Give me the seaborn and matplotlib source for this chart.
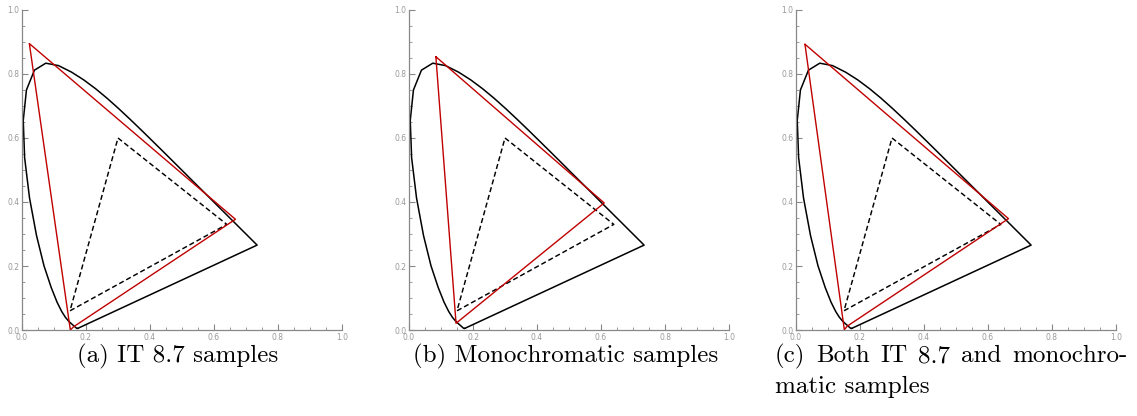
import matplotlib
matplotlib.use("Agg")
import matplotlib.pyplot as plt
import seaborn as sns
import numpy as np
import pandas as pd
from matplotlib.ticker import MultipleLocator, FormatStrFormatter

sns.set_theme(style="white")

##############################################################################
# Data
##############################################################################

# CIE 1931 spectral locus, 380-700 nm in 5 nm steps
locus_x = [0.1741, 0.1740, 0.1738, 0.1736, 0.1733, 0.1730, 0.1726, 0.1721,
           0.1714, 0.1703, 0.1689, 0.1669, 0.1644, 0.1611, 0.1566, 0.1510,
           0.1440, 0.1355, 0.1241, 0.1096, 0.0913, 0.0687, 0.0454, 0.0235,
           0.0082, 0.0039, 0.0139, 0.0389, 0.0743, 0.1142, 0.1547, 0.1929,
           0.2296, 0.2658, 0.3016, 0.3373, 0.3731, 0.4087, 0.4441, 0.4788,
           0.5125, 0.5448, 0.5752, 0.6029, 0.6270, 0.6482, 0.6658, 0.6801,
           0.6915, 0.7006, 0.7079, 0.7140, 0.7190, 0.7230, 0.7260, 0.7283,
           0.7300, 0.7311, 0.7320, 0.7327, 0.7334, 0.7340, 0.7344, 0.7346,
           0.7347]
locus_y = [0.0050, 0.0050, 0.0049, 0.0049, 0.0048, 0.0048, 0.0048, 0.0048,
           0.0051, 0.0058, 0.0069, 0.0086, 0.0109, 0.0138, 0.0177, 0.0227,
           0.0297, 0.0399, 0.0578, 0.0868, 0.1327, 0.2007, 0.2950, 0.4127,
           0.5384, 0.6548, 0.7502, 0.8120, 0.8338, 0.8262, 0.8059, 0.7816,
           0.7543, 0.7243, 0.6923, 0.6589, 0.6245, 0.5896, 0.5547, 0.5202,
           0.4866, 0.4544, 0.4242, 0.3965, 0.3725, 0.3514, 0.3340, 0.3197,
           0.3083, 0.2993, 0.2920, 0.2859, 0.2809, 0.2770, 0.2740, 0.2717,
           0.2700, 0.2689, 0.2680, 0.2673, 0.2666, 0.2660, 0.2656, 0.2654,
           0.2653]

# sRGB primaries (dashed triangle)
srgb_x = [0.30, 0.64, 0.15]
srgb_y = [0.60, 0.33, 0.06]

# fitted gamut for each panel (red)
gamut_a_x = [0.023, 0.667, 0.161, 0.151]
gamut_a_y = [0.895, 0.346, 0.010, 0.000]
gamut_b_x = [0.084, 0.610, 0.147]
gamut_b_y = [0.854, 0.397, 0.021]
gamut_c_x = [0.028, 0.664, 0.160, 0.151]
gamut_c_y = [0.893, 0.348, 0.012, 0.001]

captions = ["(a) IT 8.7 samples", "(b) Monochromatic samples"]
caption_c_words = ["(c)", "Both", "IT", "8.7", "and", "monochro-"]
caption_c_line2 = "matic samples"

##############################################################################
# Plot
##############################################################################

def closed(xs, ys):
    return list(xs) + [xs[0]], list(ys) + [ys[0]]


def draw_panel(ax, gx, gy):
    lx, ly = closed(locus_x, locus_y)
    sns.lineplot(x=lx, y=ly, sort=False, estimator=None, ax=ax,
                 color="black", linewidth=1.1)
    sx, sy = closed(srgb_x, srgb_y)
    sns.lineplot(x=sx, y=sy, sort=False, estimator=None, ax=ax,
                 color="black", linewidth=1.05, linestyle=(0, (3.5, 2)))
    rx, ry = closed(gx, gy)
    sns.lineplot(x=rx, y=ry, sort=False, estimator=None, ax=ax,
                 color="#c00000", linewidth=1.0)

    ax.set_xlim(0, 1)
    ax.set_ylim(0, 1)
    for axis in (ax.xaxis, ax.yaxis):
        axis.set_major_locator(MultipleLocator(0.2))
        axis.set_minor_locator(MultipleLocator(0.05))
        axis.set_major_formatter(FormatStrFormatter("%.1f"))
    ax.tick_params(which="both", direction="in", color="#888888",
                   labelcolor="#999999", labelsize=5.5, pad=2,
                   bottom=True, left=True)
    ax.tick_params(which="major", length=4, width=0.8)
    ax.tick_params(which="minor", length=2, width=0.6)
    for side in ["top", "right"]:
        ax.spines[side].set_visible(False)
    for side in ["left", "bottom"]:
        ax.spines[side].set_color("#888888")
        ax.spines[side].set_linewidth(0.9)
    ax.set_facecolor("white")
    ax.grid(False)


fig = plt.figure(figsize=(11.37, 4.16), dpi=100)
W, H = 1137, 416
lefts = [22, 409, 796]
panels = [(gamut_a_x, gamut_a_y), (gamut_b_x, gamut_b_y), (gamut_c_x, gamut_c_y)]

for left, (gx, gy) in zip(lefts, panels):
    ax = fig.add_axes([left / W, (H - 330) / H, 320 / W, 320 / H])
    draw_panel(ax, gx, gy)

cap_font = dict(family="cmr10", fontsize=18, color="black")
line1_y, line2_y = 356, 387
fig.text(178 / W, 1 - line1_y / H, captions[0], ha="center", va="center", **cap_font)
fig.text(566 / W, 1 - line1_y / H, captions[1], ha="center", va="center", **cap_font)

# justified first line of caption (c), spread between x=775 and x=1127
renderer = fig.canvas.get_renderer()
word_texts = [fig.text(0, 1 - line1_y / H, w, ha="left", va="center", **cap_font)
              for w in caption_c_words]
widths = [t.get_window_extent(renderer).width for t in word_texts]
x_start, x_end = 775, 1127
gap = (x_end - x_start - sum(widths)) / (len(widths) - 1)
x = x_start
for t, w in zip(word_texts, widths):
    t.set_x(x / W)
    x += w + gap
fig.text(775 / W, 1 - line2_y / H, caption_c_line2, ha="left", va="center", **cap_font)

fig.savefig("out.png", dpi=100, facecolor="white")
